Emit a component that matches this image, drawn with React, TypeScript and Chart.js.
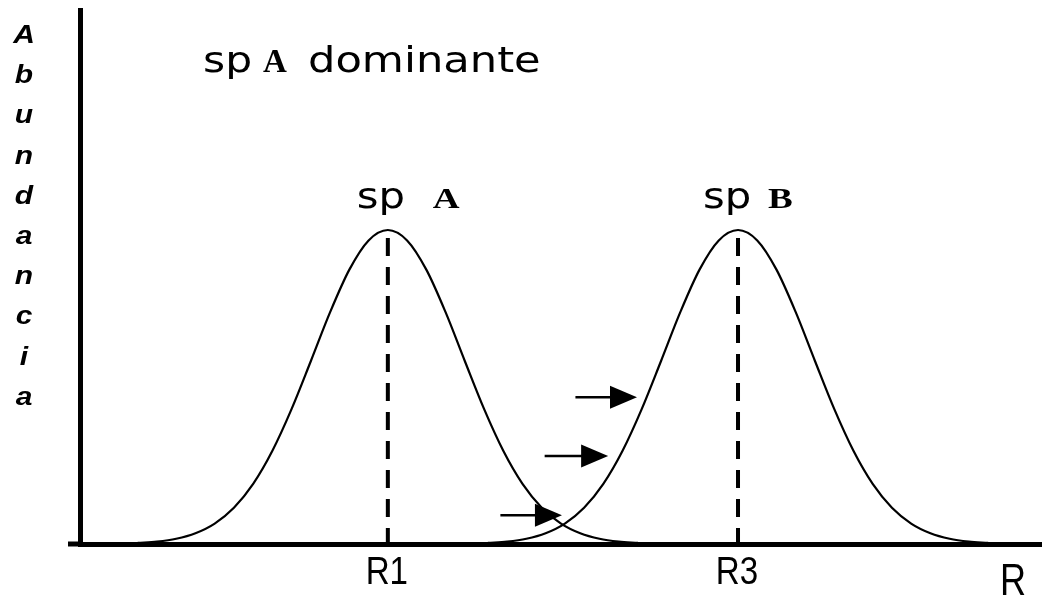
import { useEffect, useRef } from "react";
import { Chart, registerables } from "chart.js";

Chart.register(...registerables);

// ---- data ----
const peakPositions = [3.2, 6.84]; // R1, R3 on the resource axis (0..10)
const tickLabels = ["R1", "R3"];
const axisTitleX = "R";
const axisTitleY = "Abundancia";
const speciesLetters = ["A", "B"];
const titleParts = ["sp", "A", "dominante"];

const curveAX = [0.6, 0.8, 1.0, 1.2, 1.4, 1.6, 1.8, 2.0, 2.2, 2.4, 2.6, 2.8, 3.0, 3.2, 3.4, 3.6, 3.8, 4.0, 4.2, 4.4, 4.6, 4.8, 5.0, 5.2, 5.4, 5.6, 5.8];
const curveAY = [0.2, 0.46, 0.99, 2.02, 3.83, 6.79, 11.26, 17.46, 25.3, 34.27, 43.41, 51.38, 56.85, 58.8, 56.85, 51.38, 43.41, 34.27, 25.3, 17.46, 11.26, 6.79, 3.83, 2.02, 0.99, 0.46, 0.2];
const curveBX = [4.24, 4.44, 4.64, 4.84, 5.04, 5.24, 5.44, 5.64, 5.84, 6.04, 6.24, 6.44, 6.64, 6.84, 7.04, 7.24, 7.44, 7.64, 7.84, 8.04, 8.24, 8.44, 8.64, 8.84, 9.04, 9.24, 9.44];
const curveBY = [0.2, 0.46, 0.99, 2.02, 3.83, 6.79, 11.26, 17.46, 25.3, 34.27, 43.41, 51.38, 56.85, 58.8, 56.85, 51.38, 43.41, 34.27, 25.3, 17.46, 11.26, 6.79, 3.83, 2.02, 0.99, 0.46, 0.2];
const dashTop = [57.3, 57.3];

const arrowStartX = [5.15, 4.83, 4.37];
const arrowEndX = [5.79, 5.49, 5.01];
const arrowY = [27.5, 16.5, 5.4];

const axisTitleXValue = 9.7;

function drawScaledText(
  ctx: CanvasRenderingContext2D,
  text: string,
  x: number,
  y: number,
  font: string,
  sx: number,
  align: CanvasTextAlign
) {
  ctx.save();
  ctx.translate(x, y);
  ctx.scale(sx, 1);
  ctx.font = font;
  ctx.textAlign = align;
  ctx.textBaseline = "alphabetic";
  ctx.fillStyle = "#000";
  ctx.fillText(text, 0, 0);
  ctx.restore();
}

const annotationPlugin = {
  id: "annotations",
  afterDraw(chart: any) {
    const ctx: CanvasRenderingContext2D = chart.ctx;
    const xs = chart.scales.x;
    const ys = chart.scales.y;
    const area = chart.chartArea;

    // small extension of the base line to the left of the vertical axis
    ctx.save();
    ctx.strokeStyle = "#000";
    ctx.lineWidth = 5;
    ctx.beginPath();
    ctx.moveTo(area.left - 12, area.bottom);
    ctx.lineTo(area.left, area.bottom);
    ctx.stroke();
    ctx.restore();

    // arrows
    ctx.save();
    ctx.strokeStyle = "#000";
    ctx.fillStyle = "#000";
    for (let i = 0; i < arrowY.length; i++) {
      const x0 = xs.getPixelForValue(arrowStartX[i]);
      const x1 = xs.getPixelForValue(arrowEndX[i]);
      const y = ys.getPixelForValue(arrowY[i]);
      const headLen = 27;
      const headHalf = 11.5;
      ctx.lineWidth = 2.5;
      ctx.beginPath();
      ctx.moveTo(x0, y);
      ctx.lineTo(x1 - headLen + 2, y);
      ctx.stroke();
      ctx.beginPath();
      ctx.moveTo(x1, y);
      ctx.lineTo(x1 - headLen, y - headHalf);
      ctx.lineTo(x1 - headLen, y + headHalf);
      ctx.closePath();
      ctx.fill();
    }
    ctx.restore();

    // title
    drawScaledText(ctx, titleParts[0], 203, 72, "36px 'DejaVu Sans'", 1.18, "left");
    drawScaledText(ctx, titleParts[1], 263, 72, "bold 33px 'Liberation Serif'", 1.0, "left");
    drawScaledText(ctx, titleParts[2], 308, 72, "36px 'DejaVu Sans'", 1.2, "left");

    // species labels above the peaks
    const spOffsets = [-31, -35];
    const letterOffsets = [45, 30];
    for (let i = 0; i < peakPositions.length; i++) {
      const px = xs.getPixelForValue(peakPositions[i]);
      drawScaledText(ctx, "sp", px + spOffsets[i], 208, "36px 'DejaVu Sans'", 1.16, "left");
      drawScaledText(ctx, speciesLetters[i], px + letterOffsets[i], 208, "bold 29px 'Liberation Serif'", 1.28, "left");
    }

    // tick labels
    for (let i = 0; i < peakPositions.length; i++) {
      const px = xs.getPixelForValue(peakPositions[i]);
      drawScaledText(ctx, tickLabels[i], px - 1, 584, "39px 'Liberation Sans'", 0.85, "center");
    }
    // axis titles
    drawScaledText(ctx, axisTitleX, xs.getPixelForValue(axisTitleXValue), 595, "44px 'Liberation Sans'", 0.82, "center");

    const letters = axisTitleY.split("");
    for (let i = 0; i < letters.length; i++) {
      drawScaledText(ctx, letters[i], 24, 43 + i * 40.2, "italic bold 25px 'Liberation Sans'", 1.2, "center");
    }
  },
};

export default function App() {
  const canvasRef = useRef<HTMLCanvasElement | null>(null);

  useEffect(() => {
    document.body.style.margin = "0";
    const canvas = canvasRef.current;
    if (!canvas) return;
    const curveStyle = {
      borderColor: "#000",
      borderWidth: 2.2,
      pointRadius: 0,
      fill: false,
      cubicInterpolationMode: "monotone" as const,
    };
    const dashStyle = {
      borderColor: "#000",
      borderWidth: 4,
      pointRadius: 0,
      fill: false,
      borderDash: [18, 11],
    };
    const chart = new Chart(canvas, {
      type: "line",
      data: {
        datasets: [
          { ...curveStyle, label: "sp A", data: curveAX.map((x, i) => ({ x, y: curveAY[i] })) },
          { ...curveStyle, label: "sp B", data: curveBX.map((x, i) => ({ x, y: curveBY[i] })) },
          {
            ...dashStyle,
            label: "R1",
            data: [
              { x: peakPositions[0], y: dashTop[0] },
              { x: peakPositions[0], y: 0 },
            ],
          },
          {
            ...dashStyle,
            label: "R3",
            data: [
              { x: peakPositions[1], y: dashTop[1] },
              { x: peakPositions[1], y: 0 },
            ],
          },
        ],
      },
      options: {
        responsive: false,
        animation: false,
        events: [],
        layout: { padding: { left: 80, right: 0, top: 10, bottom: 55 } },
        plugins: {
          legend: { display: false },
          tooltip: { enabled: false },
          title: { display: false },
        },
        scales: {
          x: {
            type: "linear",
            min: 0,
            max: 10,
            grid: { display: false, drawTicks: false },
            ticks: { display: false },
            border: { display: true, color: "#000", width: 5 },
          },
          y: {
            type: "linear",
            min: 0,
            max: 100,
            grid: { display: false, drawTicks: false },
            ticks: { display: false },
            border: { display: true, color: "#000", width: 5 },
          },
        },
      },
      plugins: [annotationPlugin],
    });
    return () => chart.destroy();
  }, []);

  return (
    <div style={{ position: "absolute", left: 0, top: 0, width: 1042, height: 599, background: "#fff" }}>
      <canvas ref={canvasRef} width={1042} height={599} />
    </div>
  );
}
